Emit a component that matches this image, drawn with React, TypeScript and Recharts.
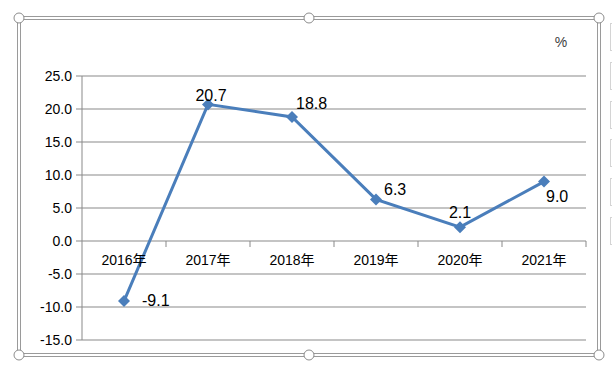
import React from 'react';
import { LineChart, Line, XAxis, YAxis, CartesianGrid, LabelList } from 'recharts';

const years = ['2016年', '2017年', '2018年', '2019年', '2020年', '2021年'];
const growth = [-9.1, 20.7, 18.8, 6.3, 2.1, 9.0];
const yTicks = [-15, -10, -5, 0, 5, 10, 15, 20, 25];

const data = years.map((year, i) => ({ year, value: growth[i] }));

const W = 612;
const H = 372;
const X_AXIS_H = 1;
const M = { top: 76, right: 26, bottom: 32 - X_AXIS_H, left: 0 };
const Y_AXIS_W = 82;
const FONT = '"Liberation Sans", "Noto Sans CJK SC", sans-serif';
const GRID = '#898989';
const BLUE = '#4a7ebb';

// where each data label sits relative to its point: anchor, dx, dy
const labelPlacement: [string, number, number][] = [
  ['start', 18, 5],
  ['middle', 3, -3],
  ['start', 4, -8],
  ['start', 8, -4],
  ['middle', 0, -9],
  ['start', 2, 20],
];

const yMin = yTicks[0];
const yMax = yTicks[yTicks.length - 1];
const plotH = H - M.top - 32;
const zeroY = M.top + (plotH * yMax) / (yMax - yMin);
const band = (W - Y_AXIS_W - M.right) / years.length;

const XTick = (props: any) => {
  const { x, payload, index } = props;
  const last = index === years.length - 1;
  return (
    <g>
      {index > 0 && (
        <line x1={x - band / 2} x2={x - band / 2} y1={zeroY} y2={zeroY + 6} stroke={GRID} />
      )}
      {last && (
        <line x1={x + band / 2} x2={x + band / 2} y1={zeroY} y2={zeroY + 6} stroke={GRID} />
      )}
      <text x={x} y={zeroY + 24} textAnchor="middle" fontSize={14} fontFamily={FONT} fill="#000">
        {payload.value}
      </text>
    </g>
  );
};

const Diamond = (props: any) => {
  const { cx, cy } = props;
  if (cx == null || cy == null) return null;
  const r = 6;
  return (
    <path
      d={`M${cx},${cy - r} L${cx + r},${cy} L${cx},${cy + r} L${cx - r},${cy} Z`}
      fill={BLUE}
    />
  );
};

const renderLabel = (props: any) => {
  const { x, y, value, index } = props;
  const [anchor, dx, dy] = labelPlacement[index] || ['middle', 0, -8];
  return (
    <text
      x={x + dx}
      y={y + dy}
      textAnchor={anchor as any}
      fontSize={16}
      fontFamily={FONT}
      fill="#000"
    >
      {Number(value).toFixed(1)}
    </text>
  );
};

const Frame = () => {
  const handles = [
    [19, 18], [309, 18], [599, 18],
    [19, 355], [309, 355], [599, 355],
  ];
  const sideBoxes = [23, 62, 101, 139, 178, 217];
  return (
    <svg
      width={W}
      height={H}
      style={{ position: 'absolute', left: 0, top: 0, pointerEvents: 'none' }}
    >
      <rect x={17.5} y={16.5} width={583} height={340} fill="none" stroke="#9a9a9a" />
      <rect x={20.5} y={19.5} width={577} height={334} fill="none" stroke="#9a9a9a" />
      {handles.map(([cx, cy], i) => (
        <circle key={i} cx={cx} cy={cy} r={5} fill="#fff" stroke="#8c8c8c" />
      ))}
      {sideBoxes.map((y, i) => (
        <rect key={i} x={610.5} y={y + 0.5} width={10} height={27} fill="#fff" stroke="#d4d4d4" />
      ))}
      <text x={561} y={47} textAnchor="middle" fontSize={14} fontFamily={FONT} fill="#404040">
        %
      </text>
    </svg>
  );
};

export default function App() {
  return (
    <div style={{ position: 'absolute', left: 0, top: 0, width: W, height: H, background: '#fff' }}>
      <LineChart width={W} height={H} data={data} margin={M}>
        <CartesianGrid vertical={false} stroke={GRID} />
        <XAxis
          dataKey="year"
          height={X_AXIS_H}
          padding={{ left: band / 2, right: band / 2 }}
          axisLine={false}
          tickLine={false}
          interval={0}
          tick={<XTick />}
        />
        <YAxis
          width={Y_AXIS_W}
          domain={[yMin, yMax]}
          ticks={yTicks}
          interval={0}
          allowDataOverflow
          tickFormatter={(v: number) => v.toFixed(1)}
          axisLine={{ stroke: GRID }}
          tickLine={{ stroke: GRID }}
          tickSize={6}
          tickMargin={4}
          tick={{ fill: '#000', fontSize: 14, fontFamily: FONT }}
        />
        <Line
          type="linear"
          dataKey="value"
          stroke={BLUE}
          strokeWidth={3}
          dot={<Diamond />}
          activeDot={false}
          isAnimationActive={false}
        >
          <LabelList dataKey="value" content={renderLabel} />
        </Line>
      </LineChart>
      <Frame />
    </div>
  );
}
